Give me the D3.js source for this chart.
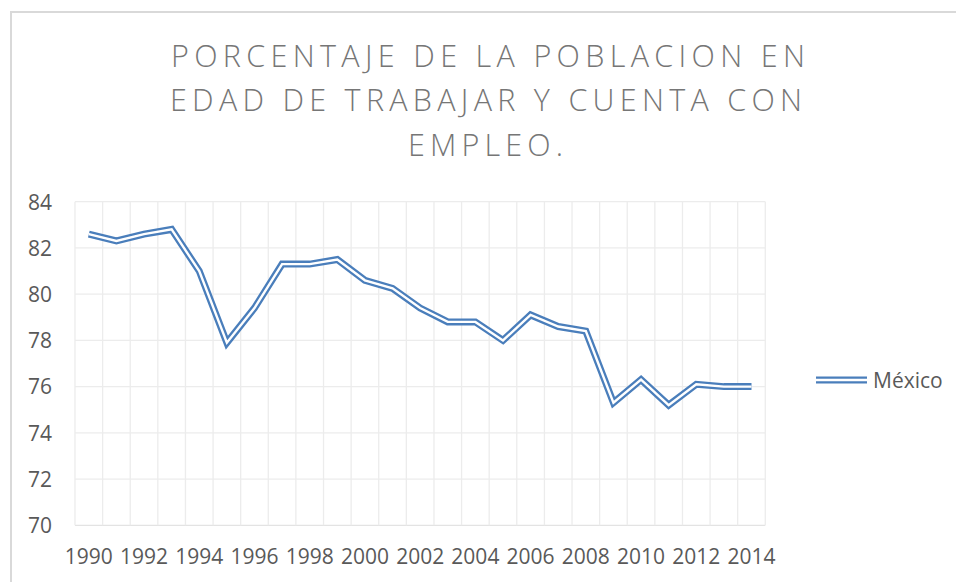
<!DOCTYPE html>
<html><head><meta charset="utf-8">
<script src="https://cdn.jsdelivr.net/npm/d3@7"></script>
<style>
html,body{margin:0;padding:0;background:#fff;overflow:hidden}
svg{display:block}
text{font-family:"Open Sans","Noto Sans",sans-serif}
</style></head>
<body>
<svg id="c" width="956" height="582"></svg>
<script>
const years = [1990,1991,1992,1993,1994,1995,1996,1997,1998,1999,2000,2001,2002,2003,2004,2005,2006,2007,2008,2009,2010,2011,2012,2013,2014];
const mexico = [82.6,82.3,82.6,82.8,81.0,77.9,79.4,81.3,81.3,81.5,80.6,80.25,79.4,78.8,78.8,78.0,79.1,78.6,78.4,75.3,76.3,75.2,76.1,76.0,76.0];
const yTicks = [70,72,74,76,78,80,82,84];
const xTickLabels = [1990,1992,1994,1996,1998,2000,2002,2004,2006,2008,2010,2012,2014];
const titleLines = ["PORCENTAJE DE LA POBLACION EN","EDAD DE TRABAJAR Y CUENTA CON","EMPLEO."];
const seriesName = "México";

const svg = d3.select("#c");
const blue = "#4a7ebb";

// chart border
svg.append("rect").attr("x",11).attr("y",12).attr("width",960).attr("height",600)
  .attr("fill","none").attr("stroke","#d9d9d9").attr("stroke-width",2);

const x = d3.scaleBand().domain(years).range([75,765.3]).padding(0);
const y = d3.scaleLinear().domain([70,84]).range([525.3,201.7]);

const g = svg.append("g");
g.selectAll(".hg").data(yTicks).join("line")
  .attr("x1",75).attr("x2",765.3).attr("y1",d=>y(d)).attr("y2",d=>y(d))
  .attr("stroke",d=>d===70?"#e3e3e3":"#ececec").attr("stroke-width",1.3);
const bounds = years.map(d=>x(d)).concat([x(years[years.length-1])+x.bandwidth()]);
g.selectAll(".vg").data(bounds).join("line")
  .attr("x1",d=>d).attr("x2",d=>d).attr("y1",y(84)).attr("y2",y(70))
  .attr("stroke","#ececec").attr("stroke-width",1.3);

const yAxis = d3.axisLeft(y).tickValues(yTicks).tickSize(0).tickPadding(0);
const ya = svg.append("g").attr("transform","translate(52,0)").call(yAxis);
ya.select(".domain").remove();
ya.selectAll("text").attr("font-size",21).attr("fill","#595959").attr("dy","0.35em").attr("x",0);

const xAxis = d3.axisBottom(x).tickValues(xTickLabels).tickSize(0).tickPadding(0);
const xa = svg.append("g").call(xAxis);
xa.select(".domain").remove();
xa.selectAll("text").attr("font-size",21).attr("fill","#595959").attr("y",564).attr("dy",0);

const line = d3.line().x((d,i)=>x(years[i])+x.bandwidth()/2).y(d=>y(d)).curve(d3.curveLinear);
svg.append("path").datum(mexico).attr("d",line).attr("fill","none")
  .attr("stroke",blue).attr("stroke-width",7).attr("stroke-linejoin","miter");
svg.append("path").datum(mexico).attr("d",line).attr("fill","none")
  .attr("stroke","#fff").attr("stroke-width",2.4).attr("stroke-linejoin","miter");

const lg = svg.append("g");
lg.append("line").attr("x1",816).attr("x2",867).attr("y1",380).attr("y2",380)
  .attr("stroke",blue).attr("stroke-width",7);
lg.append("line").attr("x1",816).attr("x2",867).attr("y1",380).attr("y2",380)
  .attr("stroke","#fff").attr("stroke-width",2.4);
lg.append("text").attr("x",873).attr("y",387.5).attr("font-size",21).attr("fill","#595959").text(seriesName);

const targets = [[171,805],[170,802],[408,563]];
const baselines = [66.5,111,155.5];
titleLines.forEach((t,i)=>{
  const tx = svg.append("text").attr("y",baselines[i]).attr("font-size",30.5)
    .attr("font-weight",300).attr("fill","#767676").attr("x",0).text(t);
  const w0 = tx.node().getComputedTextLength();
  const tw = targets[i][1]-targets[i][0];
  const ls = (tw - w0)/(t.length-1);
  tx.attr("letter-spacing",ls).attr("x",targets[i][0]);
});
</script>
</body></html>
